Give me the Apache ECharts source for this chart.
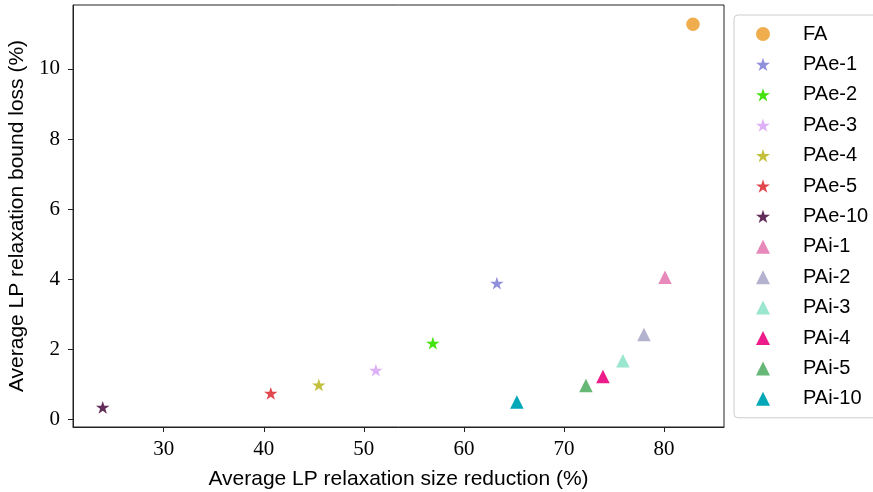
<!DOCTYPE html>
<html>
<head>
<meta charset="utf-8">
<script src="https://cdn.jsdelivr.net/npm/echarts@6/dist/echarts.min.js"></script>
<style>
  html, body { margin: 0; padding: 0; background: #fff; }
  #chart { width: 873px; height: 492px; }
</style>
</head>
<body>
<div id="chart"></div>
<script>
// Methods compared: full (FA), explicit (PAe) and implicit (PAi) variants
const methods = ['FA', 'PAe-1', 'PAe-2', 'PAe-3', 'PAe-4', 'PAe-5', 'PAe-10',
                 'PAi-1', 'PAi-2', 'PAi-3', 'PAi-4', 'PAi-5', 'PAi-10'];
// Average LP relaxation size reduction (%)
const sizeReduction = [82.9, 63.3, 56.9, 51.2, 45.5, 40.7, 23.9,
                       80.1, 78.0, 75.9, 73.9, 72.2, 65.3];
// Average LP relaxation bound loss (%)
const boundLoss = [11.27, 3.89, 2.18, 1.41, 0.99, 0.75, 0.35,
                   4.06, 2.43, 1.68, 1.23, 0.97, 0.50];
const colors = ['#f0ad4e', '#8f8fdb', '#44e40a', '#deb0f8', '#c2c03c', '#e2474d', '#632d59',
                '#e889bb', '#b3b3cf', '#9ae6cf', '#ec1d8a', '#67b777', '#03a8b8'];
const xTicks = [30, 40, 50, 60, 70, 80];
const yTicks = [0, 2, 4, 6, 8, 10];

const STAR = 'path://M0,-1 L0.2245,-0.309 L0.951,-0.309 L0.363,0.118 L0.588,0.809 L0,0.382 L-0.588,0.809 L-0.363,0.118 L-0.951,-0.309 L-0.2245,-0.309 Z';

function markerFor(name) {
  if (name === 'FA') return { symbol: 'circle', size: 13.5 };
  if (name.indexOf('PAe') === 0) return { symbol: STAR, size: [13.5, 12.8] };
  return { symbol: 'triangle', size: 13.5 };
}

const series = methods.map((name, i) => {
  const m = markerFor(name);
  return {
    name: name,
    type: 'scatter',
    symbol: m.symbol,
    symbolSize: m.size,
    itemStyle: { color: colors[i], opacity: 1 },
    data: [[sizeReduction[i], boundLoss[i]]]
  };
});

const tickFont = { fontFamily: 'Liberation Serif', fontSize: 21, color: '#000' };
const titleFont = { fontFamily: 'Liberation Sans', fontSize: 21, color: '#000' };
const chart = echarts.init(document.getElementById('chart'), null, { renderer: 'canvas' });
chart.setOption({
  animation: false,
  backgroundColor: '#fff',
  grid: {
    left: 73, right: 149, top: 5, bottom: 65,
    containLabel: false, outerBoundsMode: 'none',
    show: true, borderColor: '#222', borderWidth: 1, backgroundColor: 'transparent'
  },
  legend: {
    orient: 'vertical',
    left: 734, top: 15,
    padding: [9, 12, 9, 22],
    itemWidth: 14, itemHeight: 14, itemGap: 10.4,
    borderColor: '#cccccc', borderWidth: 1, borderRadius: 4,
    textStyle: { fontFamily: 'Liberation Sans', fontSize: 20, color: '#000', lineHeight: 20, padding: [0, 0, 0, 28] },
    data: methods
  },
  xAxis: {
    type: 'value', min: 20.93, max: 86.0,
    name: 'Average LP relaxation size reduction (%)',
    nameLocation: 'middle', nameGap: 42,
    nameTextStyle: titleFont,
    axisLine: { show: true, onZero: false, lineStyle: { color: '#222', width: 1 } },
    axisTick: { show: true, length: 5, customValues: xTicks, lineStyle: { color: '#222' } },
    axisLabel: Object.assign({ customValues: xTicks, margin: 12 }, tickFont),
    splitLine: { show: false }
  },
  yAxis: {
    type: 'value', min: -0.21, max: 11.82,
    name: 'Average LP relaxation bound loss (%)',
    nameLocation: 'middle', nameGap: 41,
    nameTextStyle: titleFont,
    axisLine: { show: true, onZero: false, lineStyle: { color: '#222', width: 1 } },
    axisTick: { show: true, length: 5, customValues: yTicks, lineStyle: { color: '#222' } },
    axisLabel: Object.assign({ customValues: yTicks, margin: 13 }, tickFont),
    splitLine: { show: false }
  },
  series: series
});
</script>
</body>
</html>
